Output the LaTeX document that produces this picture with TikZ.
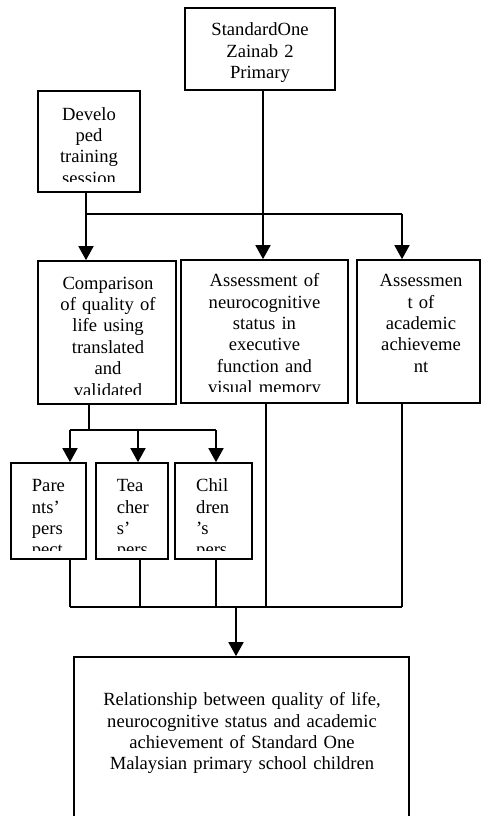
\documentclass[tikz,border=0pt]{standalone}
\usepackage{fontspec}
\setmainfont{Liberation Serif}
\usetikzlibrary{arrows.meta}
\newcommand\boxat[5]{\node[box, minimum width={(#4)-(#2)}, minimum height={(#5)-(#3)}] (#1) at ({((#2)+(#4))/2},{((#3)+(#5))/2}) {};}
\begin{document}
\begin{tikzpicture}[x=1pt,y=-1pt,
  box/.style={draw, line width=1.7pt, inner sep=0pt, rectangle},
  conn/.style={line width=1.7pt},
  arr/.style={conn, -{Triangle[length=14pt,width=15pt]}},
  txt/.style={inner sep=0pt, font=\fontsize{18.6}{21.4}\selectfont, text width=320pt, align=center, anchor=base},
  ltxt/.style={inner sep=0pt, font=\fontsize{18.6}{21.4}\selectfont, text width=60pt, align=left, anchor=base west},
]
\useasboundingbox (0,0) rectangle (482,816);

% boxes
\boxat{std}{185}{8}{335}{90}
\boxat{dev}{38}{91}{140}{192}
\boxat{comp}{38}{261}{176}{404}
\boxat{neuro}{181}{260}{348}{403}
\boxat{ach}{357}{260}{480}{403}
\boxat{par}{11}{463}{85.7}{559}
\boxat{tea}{95.7}{463}{168.3}{559}
\boxat{chi}{175.3}{463}{251.7}{559}
\boxat{rel}{74}{657}{409}{880}

% texts
\node[txt] (tstd) at (260,36) {StandardOne\\Zainab 2\\Primary};
\begin{scope}
  \clip (40,93) rectangle (138,181.5);
  \node[txt] (tdev) at (89,120) {Develo\\ped\\training\\session};
\end{scope}
\begin{scope}
  \clip (40,263) rectangle (174,394);
  \node[txt] (tcomp) at (108,289) {Comparison\\of quality of\\life using\\translated\\and\\validated};
\end{scope}
\begin{scope}
  \clip (183,262) rectangle (346,391.7);
  \node[txt] (tneuro) at (264.5,286.7) {Assessment of\\neurocognitive\\status in\\executive\\function and\\visual memory};
\end{scope}
\node[txt] (tach) at (421,286.7) {Assessmen\\t of\\academic\\achieveme\\nt};
\begin{scope}
  \clip (13,465) rectangle (83.7,550);
  \node[ltxt] (tpar) at (31.7,491.7) {Pare\\nts’\\pers\\pect};
\end{scope}
\begin{scope}
  \clip (97.7,465) rectangle (166.3,550);
  \node[ltxt] (ttea) at (116.7,491.7) {Tea\\cher\\s’\\pers};
\end{scope}
\begin{scope}
  \clip (177.3,465) rectangle (249.7,550);
  \node[ltxt] (tchi) at (196,491.7) {Chil\\dren\\’s\\pers};
\end{scope}
\node[txt] (trel) at (242,705.7) {Relationship between quality of life,\\neurocognitive status and academic\\achievement of Standard One\\Malaysian primary school children};

% junctions
\coordinate (j1) at (86,214);
\coordinate (j2) at (402,214);
\coordinate (k0) at (89,430);
\coordinate (k1) at (70,430);
\coordinate (k2) at (138,430);
\coordinate (k3) at (216,430);
\coordinate (m1) at (70,607);
\coordinate (m2) at (140.3,607);
\coordinate (m3) at (215.7,607);
\coordinate (m4) at (265.7,607);
\coordinate (m5) at (402.3,607);
\coordinate (m0) at (236,607);

% connectors
\draw[conn] (dev.south -| j1) -- (j1);
\draw[conn] (j1) -- (j2);
\draw[arr] (j1) -- (j1 |- comp.north);
\draw[arr] (j2) -- (j2 |- ach.north);
\draw[arr] ([xshift=3pt]std.south) -- ([xshift=3pt]std.south |- neuro.north);

\draw[conn] (comp.south -| k0) -- (k0);
\draw[conn] (k1) -- (k3);
\draw[arr] (k1) -- (k1 |- par.north);
\draw[arr] (k2) -- (k2 |- tea.north);
\draw[arr] (k3) -- (k3 |- chi.north);

\draw[conn] (par.south -| m1) -- (m1);
\draw[conn] (tea.south -| m2) -- (m2);
\draw[conn] (chi.south -| m3) -- (m3);
\draw[conn] (neuro.south -| m4) -- (m4);
\draw[conn] (ach.south -| m5) -- (m5);
\draw[conn] (m1) -- (m5);
\draw[arr] (m0) -- (m0 |- rel.north);
\end{tikzpicture}
\end{document}
